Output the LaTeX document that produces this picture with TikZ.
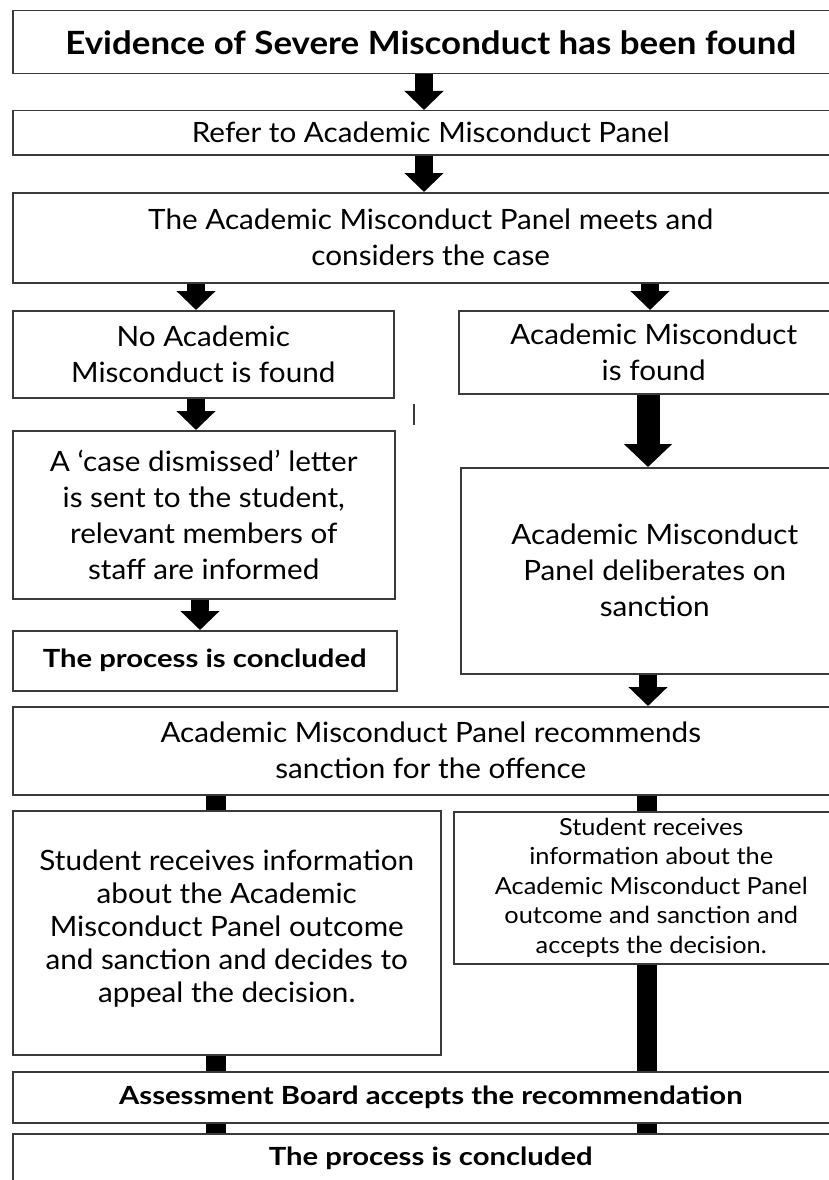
\documentclass[tikz,border=0pt]{standalone}
\usepackage{fontspec}
\setmainfont{Lato}
\usetikzlibrary{arrows.meta}
\definecolor{boxgray}{HTML}{3A3A3A}
\begin{document}
\begin{tikzpicture}[x=1pt,y=-1pt,
  box/.style={draw=boxgray, line width=1.5pt, fill=white, align=center, inner sep=0pt, anchor=north west, text=black},
  reg/.style={font=\fontsize{28}{36}\selectfont\addfontfeature{FakeStretch=1.06}},
  regs/.style={font=\fontsize{28}{33}\selectfont\addfontfeature{FakeStretch=1.06}},
  small/.style={font=\fontsize{23.5}{29.5}\selectfont\addfontfeature{FakeStretch=1.08}},
  bigbold/.style={font=\fontsize{32}{38}\selectfont\bfseries\addfontfeature{FakeStretch=1.09}},
  bold/.style={font=\fontsize{25}{30}\selectfont\bfseries\addfontfeature{FakeStretch=1.17}},
  arr/.style={draw=black, line width=18pt, -{Triangle[width=38pt,length=19pt]}},
  bigarr/.style={draw=black, line width=23pt, -{Triangle[width=47pt,length=23pt]}},
  bar/.style={draw=black, line width=20pt}
]
\clip (0,0) rectangle (829,1180);
\fill[white] (0,0) rectangle (829,1180);

\node[box, bigbold, minimum width=836pt, minimum height=63pt] (b1) at (12,10) {Evidence of Severe Misconduct has been found};
\node[box, reg, minimum width=836pt, minimum height=44pt] (b2) at (12,110) {Refer to Academic Misconduct Panel};
\node[box, reg, minimum width=836pt, minimum height=90pt] (b3) at (12,192) {The Academic Misconduct Panel meets and\\considers the case};
\node[box, reg, minimum width=381pt, minimum height=87pt] (b4l) at (12,310) {No Academic\\Misconduct is found};
\node[box, reg, minimum width=390pt, minimum height=83pt] (b4r) at (458,310) {Academic Misconduct\\is found};
\node[box, reg, minimum width=382pt, minimum height=168pt] (b5l) at (12,430) {A ‘case dismissed’ letter\\is sent to the student,\\relevant members of\\staff are informed};
\node[box, reg, minimum width=388pt, minimum height=206pt] (b5r) at (460,467) {Academic Misconduct\\Panel deliberates on\\sanction};
\node[box, bold, minimum width=384pt, minimum height=60pt] (b6l) at (12,630) {The process is concluded};
\node[box, reg, minimum width=836pt, minimum height=88pt] (b7) at (12,706) {Academic Misconduct Panel recommends\\sanction for the offence};
\node[box, regs, minimum width=428pt, minimum height=244pt] (b8l) at (12,810) {Student receives information\\about the Academic\\Misconduct Panel outcome\\and sanction and decides to\\appeal the decision.\\[-20pt]};
\node[box, small, minimum width=395pt, minimum height=152pt] (b8r) at (453,811) {Student receives\\information about the\\Academic Misconduct Panel\\outcome and sanction and\\accepts the decision.};
\node[box, bold, minimum width=836pt, minimum height=51pt] (b9) at (12,1071) {Assessment Board accepts the recommendation};
\node[box, bold, minimum width=836pt, minimum height=50pt] (b10) at (12,1133) {The process is concluded};

\coordinate (xa) at (424,0);
\coordinate (xl1) at (196,0);
\coordinate (xl3) at (200,0);
\coordinate (xr1) at (650,0);
\coordinate (xr2) at (648,0);
\coordinate (xbl) at (216,0);
\coordinate (xbr) at (647,0);

\draw[arr] (b1.south -| xa) -- (b2.north -| xa);
\draw[arr] (b2.south -| xa) -- (b3.north -| xa);
\draw[arr] (b3.south -| xl1) -- (b4l.north -| xl1);
\draw[arr] (b3.south -| xr1) -- (b4r.north -| xr1);
\draw[arr] (b4l.south -| xl1) -- (b5l.north -| xl1);
\draw[bigarr] (b4r.south -| xr2) -- (b5r.north -| xr2);
\draw[arr] (b5l.south -| xl3) -- (b6l.north -| xl3);
\draw[arr] (b5r.south -| xr2) -- (b7.north -| xr2);
\draw[bar] (b7.south -| xbl) -- (b8l.north -| xbl);
\draw[bar] (b7.south -| xbr) -- (b8r.north -| xbr);
\draw[bar] (b8l.south -| xbl) -- (b9.north -| xbl);
\draw[bar] (b8r.south -| xbr) -- (b9.north -| xbr);
\draw[bar] (b9.south -| xbl) -- (b10.north -| xbl);
\draw[bar] (b9.south -| xbr) -- (b10.north -| xbr);

\draw[boxgray, line width=1.5pt] (414,404) -- (414,425);
\end{tikzpicture}
\end{document}
